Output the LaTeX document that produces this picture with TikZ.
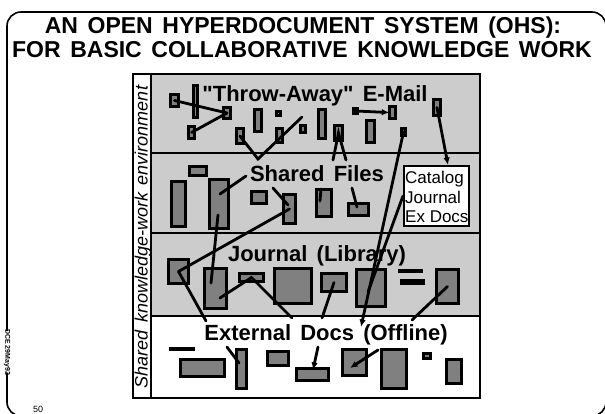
\documentclass[tikz,border=0pt]{standalone}
\usepackage{fontspec}
\setmainfont{Liberation Sans}
\newfontfamily\headfont[WordSpace=1.15]{Liberation Sans}
\newfontfamily\layerfont[WordSpace=1.6]{Liberation Sans}
\newfontfamily\sidefont[WordSpace=1.5]{Liberation Sans}
\usetikzlibrary{arrows.meta,calc}

\tikzset{
  doc/.style={draw=black, line width=2.6pt, fill=black!50, inner sep=0pt, outer sep=0pt},
  bar/.style={draw=black, line width=1.8pt, fill=white, inner sep=0pt, outer sep=0pt},
  link/.style={line width=2.8pt, line cap=round, black},
  tipped/.style={-{Latex[length=7.5pt,width=6.5pt]}},
  headline/.style={font=\headfont\bfseries\fontsize{23}{26}\selectfont, anchor=base, inner sep=0pt},
  layer/.style={font=\layerfont\bfseries\fontsize{22}{25}\selectfont, anchor=base, inner sep=0pt},
  catline/.style={font=\fontsize{17}{19}\selectfont, anchor=base west, inner sep=0pt},
}

% \dbox[style]{name}{x1}{y1}{x2}{y2}: a document block given by its outer edges
\newcommand\dbox[6][]{%
  \node[doc,#1,minimum width={(#5-#3-2.6)*1pt},minimum height={(#6-#4-2.6)*1pt}]
    (#2) at ({(#3+#5)/2},{(#4+#6)/2}) {};}

\begin{document}
\begin{tikzpicture}[x=1pt,y=-1pt]
\useasboundingbox (0,0) rectangle (605,413);

% slide frame, broken on the left for the date stamp
\draw[line width=1.6pt, rounded corners=14pt]
  (7,331) -- (7,12) -- (606,12) -- (606,416) -- (7,416) -- (7,373);
\node[rotate=-90, font=\bfseries\fontsize{7}{8}\selectfont, inner sep=0pt] (dce) at (7,352) {DCE 29May92};
\node[font=\fontsize{9}{10}\selectfont, anchor=base west, inner sep=0pt] (pageno) at (33,412.5) {50};

% heading
\node[headline] (t1) at (303,33) {AN OPEN HYPERDOCUMENT SYSTEM (OHS):};
\node[headline] (t2) at (302,57) {FOR BASIC COLLABORATIVE KNOWLEDGE WORK};

% layered environment
\fill[black!20] (151,74) rectangle (480,316);
\fill[white] (151,316) rectangle (480,398);
\draw[line width=2.8pt] (151,153) -- (480,153) (151,233) -- (480,233) (151,316) -- (480,316);
\draw[line width=1.8pt] (151,74) -- (151,398);
\draw[line width=2.2pt] (133,74) rectangle (480,398);
\node[rotate=90, font=\sidefont\itshape\fontsize{18}{19}\selectfont, inner sep=0pt] (env) at (143,237)
  {Shared knowledge-work environment};

% layer titles
\node[layer] (lmail) at (315,101) {"Throw-Away" E-Mail};
\node[layer] (lfiles) at (317,181) {Shared Files};
\node[layer] (ljournal) at (317,261.5) {Journal (Library)};
\node[layer] (lext) at (326,340) {External Docs (Offline)};

% e-mail layer
\dbox{e1}{169}{93}{180}{108}
\dbox{e2}{192}{84}{199}{119}
\dbox{e3}{222}{106}{232}{120}
\dbox{e4}{187}{125}{196}{140}
\dbox{e5}{253}{108}{263}{133}
\dbox{e6}{275}{110}{282}{117}
\dbox{e7}{235}{127}{245}{145}
\dbox{e8}{275}{127}{284}{144}
\dbox{e9}{299}{124}{307}{134}
\dbox{e10}{317}{108}{327}{140}
\dbox{e11}{333}{124}{344}{142}
\dbox{e12}{352}{107}{359}{115}
\dbox{e13}{388}{105}{397}{120}
\dbox{e14}{365}{119}{376}{144}
\dbox{e15}{400}{127}{407}{137}
\dbox{e16}{432}{98}{442}{117}

% shared-files layer
\dbox{f1}{188}{165}{208}{177}
\dbox{f2}{170}{180}{187}{228}
\dbox{f3}{208}{178}{230}{230}
\dbox{f4}{250}{190}{268}{205}
\dbox{f5}{282}{193}{297}{225}
\dbox{f6}{315}{188}{333}{218}
\dbox{f7}{347}{202}{370}{217}
\node[draw, line width=2pt, fill=white, minimum width=65pt, minimum height=60pt, inner sep=0pt]
  (cat) at (436.5,196) {};
\node[catline] (catc) at (405,183.5) {Catalog};
\node[catline] (catj) at (405,203) {Journal};
\node[catline] (catx) at (405,222) {Ex Docs};

% journal layer
\dbox{j1}{167}{258}{190}{285}
\dbox{j2}{203}{267}{228}{310}
\dbox{j3}{238}{272}{265}{283}
\dbox{j4}{273}{267}{313}{305}
\dbox{j5}{320}{272}{348}{293}
\dbox{j6}{355}{268}{387}{308}
\dbox[fill=black]{j7}{398}{269}{423}{273}
\dbox{j8}{400}{279}{425}{285}
\dbox{j9}{435}{268}{460}{305}

% external-docs layer
\dbox[bar]{x1}{169}{347}{195}{351}
\dbox{x2}{179}{358}{226}{378}
\dbox{x3}{235}{348}{248}{390}
\dbox{x4}{266}{350}{290}{367}
\dbox{x5}{295}{367}{330}{382}
\dbox{x6}{341}{348}{368}{377}
\dbox{x7}{380}{348}{408}{390}
\dbox{x8}{422}{352}{432}{360}
\dbox{x9}{445}{358}{463}{385}

% free ends of links
\coordinate (vpt) at (258,159);
\coordinate (mailend) at (302,117);
\coordinate (fa1) at (333,160);
\coordinate (fa2) at (346,160);
\coordinate (offtip) at (361,327);
\coordinate (catin) at (448,165);
\coordinate (sharedS) at (246,176);
\coordinate (sharedE) at (273,188);
\coordinate (sharedD) at (321,189);
\coordinate (filesL) at (352,188);
\coordinate (f3a) at (220,194);
\coordinate (f3b) at (218,215);
\coordinate (f5a) at (288,205);
\coordinate (f6a) at (320,201);
\coordinate (f7a) at (357,207);
\coordinate (j2a) at (211,283);
\coordinate (j2b) at (220,298);
\coordinate (j6a) at (368,292);
\coordinate (extE) at (206,321);
\coordinate (extD) at (292,318);
\coordinate (extC) at (322,318);
\coordinate (extP) at (412,320);
\coordinate (extT) at (227,347);
\coordinate (extO) at (318,347);
\coordinate (extF) at (378,350);
\coordinate (x3a) at (239,363);
\coordinate (x5a) at (313,370);
\coordinate (x6a) at (350,368);

% links
\draw[link] (e1.center) -- (e3.center);
\draw[link] (e4.center) -- (e3.center);
\draw[link] (e7.center) -- (vpt) -- (mailend);
\draw[link] (fa1) -- (e11.center) -- (fa2);
\draw[link,tipped] (e12.center) -- (e13.west);
\draw[link,tipped] (e15.center) -- (offtip);
\draw[link,tipped] (e16.center) -- (catin);
\draw[link] (f3a) -- (sharedS);
\draw[link] (f3b) -- (j2a);
\draw[link] (sharedE) -- (f5a);
\draw[link] (j1.center) -- (f5.center);
\draw[link] (sharedD) -- (f6a);
\draw[link] (filesL) -- (f7a);
\draw[link] (cat.west) -- (j6a);
\draw[link] (j2b) -- (j3.center) -- (extD);
\draw[link] (j1.center) -- (extE);
\draw[link] (j5.center) -- (extC);
\draw[link] (j9.center) -- (extP);
\draw[link] (extT) -- (x3a);
\draw[link,tipped] (extO) -- (x5a);
\draw[link,tipped] (extF) -- (x6a);
\end{tikzpicture}
\end{document}
